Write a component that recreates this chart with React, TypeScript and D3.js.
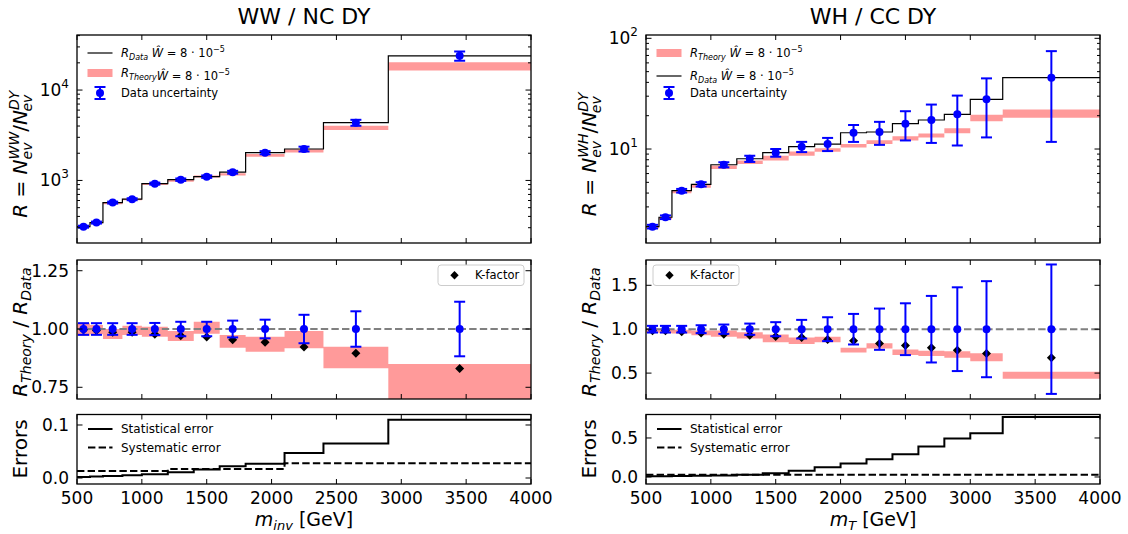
import React from "react";
import * as d3 from "d3";

// ---------------- data: WW / NC DY (left) ----------------
const wwEdges = [500, 600, 700, 850, 1000, 1200, 1400, 1600, 1800, 2100, 2400, 2900, 4000];
const wwData = [308, 342, 569, 620, 922, 1020, 1102, 1233, 2027, 2228, 4355, 23900];
const wwDataErr = [0.025, 0.025, 0.025, 0.025, 0.026, 0.031, 0.031, 0.036, 0.04, 0.061, 0.076, 0.117];
const wwTheoryLo = [0.971, 0.977, 0.957, 0.974, 0.967, 0.949, 0.98, 0.92, 0.903, 0.917, 0.832, 0.69];
const wwTheoryHi = [1.024, 1.017, 1.0, 1.014, 1.01, 0.991, 1.031, 0.974, 0.967, 0.991, 0.924, 0.85];
const wwKFactor = [0.997, 0.994, 0.986, 0.986, 0.977, 0.971, 0.966, 0.954, 0.943, 0.923, 0.896, 0.831];
const wwStat = [0.002, 0.003, 0.004, 0.005, 0.007, 0.011, 0.016, 0.022, 0.027, 0.047, 0.065, 0.11];
const wwSys = [0.013, 0.013, 0.013, 0.013, 0.013, 0.017, 0.017, 0.017, 0.017, 0.028, 0.028, 0.028];

// ---------------- data: WH / CC DY (right) ----------------
const whEdges = [500, 600, 700, 850, 1000, 1200, 1400, 1600, 1800, 2000, 2200, 2400, 2600, 2800, 3000, 3250, 4000];
const whData = [1.99, 2.42, 4.2, 4.8, 7.21, 8.17, 9.26, 10.49, 11.09, 14.03, 14.25, 16.95, 18.28, 20.57, 28.1, 44.1];
const whDataErr = [0.038, 0.038, 0.038, 0.045, 0.053, 0.064, 0.08, 0.106, 0.136, 0.174, 0.235, 0.295, 0.379, 0.477, 0.547, 0.737];
const whTheoryLo = [0.96, 0.955, 0.95, 0.93, 0.915, 0.895, 0.85, 0.83, 0.85, 0.735, 0.78, 0.705, 0.695, 0.675, 0.635, 0.435];
const whTheoryHi = [1.01, 1.005, 0.995, 0.985, 0.985, 0.965, 0.94, 0.905, 0.915, 0.79, 0.84, 0.77, 0.755, 0.75, 0.725, 0.515];
const whKFactor = [0.981, 0.981, 0.97, 0.958, 0.943, 0.932, 0.917, 0.905, 0.883, 0.867, 0.837, 0.814, 0.788, 0.761, 0.723, 0.674];
const whStat = [0.008, 0.01, 0.012, 0.015, 0.02, 0.027, 0.049, 0.08, 0.124, 0.173, 0.227, 0.293, 0.391, 0.493, 0.56, 0.769];
const whSys = [0.03, 0.03, 0.03, 0.03, 0.03, 0.03, 0.03, 0.03, 0.03, 0.03, 0.03, 0.03, 0.03, 0.03, 0.03, 0.03];

// ---------------- ticks ----------------
const xTicks = [500, 1000, 1500, 2000, 2500, 3000, 3500, 4000];
const wwTopMajor = [1000, 10000];
const whTopMajor = [10, 100];
const wwMidTicks = [0.75, 1.0, 1.25];
const wwMidLabels = ["0.75", "1.00", "1.25"];
const whMidTicks = [0.5, 1.0, 1.5];
const whMidLabels = ["0.5", "1.0", "1.5"];
const wwBotTicks = [0.0, 0.1];
const wwBotLabels = ["0.0", "0.1"];
const whBotTicks = [0.0, 0.5];
const whBotLabels = ["0.0", "0.5"];

const FONT = "'DejaVu Sans', sans-serif";
const PINK = "#ff9a9a";
const BLUE = "#0000ff";
const TOP = { y0: 35, y1: 243 };
const MID = { y0: 260, y1: 399 };
const BOT = { y0: 414.5, y1: 484 };

type Cfg = {
  id: string;
  x0: number;
  x1: number;
  edges: number[];
  data: number[];
  err: number[];
  lo: number[];
  hi: number[];
  kf: number[];
  stat: number[];
  sys: number[];
  topDomain: [number, number];
  topMajor: number[];
  midDomain: [number, number];
  midTicks: number[];
  midLabels: string[];
  botDomain: [number, number];
  botTicks: number[];
  botLabels: string[];
  title: string;
  sup: string;
  supW: number;
  xsub: string;
  theoryFirst: boolean;
  kfRight: boolean;
};

const WW: Cfg = {
  id: "ww",
  x0: 77,
  x1: 531,
  edges: wwEdges,
  data: wwData,
  err: wwDataErr,
  lo: wwTheoryLo,
  hi: wwTheoryHi,
  kf: wwKFactor,
  stat: wwStat,
  sys: wwSys,
  topDomain: [Math.pow(10, 2.308), Math.pow(10, 4.609)],
  topMajor: wwTopMajor,
  midDomain: [0.6998, 1.296],
  midTicks: wwMidTicks,
  midLabels: wwMidLabels,
  botDomain: [-0.0113, 0.1198],
  botTicks: wwBotTicks,
  botLabels: wwBotLabels,
  title: "WW / NC DY",
  sup: "WW",
  supW: 27.7,
  xsub: "inv",
  theoryFirst: false,
  kfRight: true,
};

const WH: Cfg = {
  id: "wh",
  x0: 646,
  x1: 1100,
  edges: whEdges,
  data: whData,
  err: whDataErr,
  lo: whTheoryLo,
  hi: whTheoryHi,
  kf: whKFactor,
  stat: whStat,
  sys: whSys,
  topDomain: [Math.pow(10, 0.151), Math.pow(10, 2.03)],
  topMajor: whTopMajor,
  midDomain: [0.205, 1.788],
  midTicks: whMidTicks,
  midLabels: whMidLabels,
  botDomain: [-0.09, 0.801],
  botTicks: whBotTicks,
  botLabels: whBotLabels,
  title: "WH / CC DY",
  sup: "WH",
  supW: 24.4,
  xsub: "T",
  theoryFirst: true,
  kfRight: false,
};

function LegendMath({ x, y, sub, space }: { x: number; y: number; sub: string; space: boolean }) {
  return (
    <text x={x} y={y} fontSize={11.5} fill="#000">
      <tspan fontStyle="italic">R</tspan>
      <tspan fontStyle="italic" fontSize={8} dy={3}>
        {sub}
      </tspan>
      <tspan dy={-3}>{space ? " " : ""}</tspan>
      <tspan fontStyle="italic">Ŵ</tspan>
      <tspan> = 8 · 10</tspan>
      <tspan fontSize={8} dy={-5}>
        −5
      </tspan>
    </text>
  );
}

function Diamond({ cx, cy, r }: { cx: number; cy: number; r: number }) {
  return <path d={`M${cx},${cy - r}L${cx + r},${cy}L${cx},${cy + r}L${cx - r},${cy}Z`} fill="#000" />;
}

function ErrBar({ x, yTop, yBot, yc }: { x: number; yTop: number; yBot: number; yc: number }) {
  const c = 5.5;
  return (
    <g stroke={BLUE} strokeWidth={2}>
      <line x1={x} x2={x} y1={yTop} y2={yBot} />
      <line x1={x - c} x2={x + c} y1={yTop} y2={yTop} />
      <line x1={x - c} x2={x + c} y1={yBot} y2={yBot} />
      <circle cx={x} cy={yc} r={4} fill={BLUE} stroke="none" />
    </g>
  );
}

function Frame({ x0, x1, y0, y1 }: { x0: number; x1: number; y0: number; y1: number }) {
  return <rect x={x0} y={y0} width={x1 - x0} height={y1 - y0} fill="none" stroke="#000" strokeWidth={1.3} />;
}

function Half({ cfg }: { cfg: Cfg }) {
  const { x0, x1, edges } = cfg;
  const n = cfg.data.length;
  const x = d3.scaleLinear().domain([500, 4000]).range([x0, x1]);
  const yT = d3.scaleLog().domain(cfg.topDomain).range([TOP.y1, TOP.y0]);
  const yM = d3.scaleLinear().domain(cfg.midDomain).range([MID.y1, MID.y0]);
  const yB = d3.scaleLinear().domain(cfg.botDomain).range([BOT.y1, BOT.y0]);
  const centers = d3.range(n).map((i) => (edges[i] + edges[i + 1]) / 2);

  const stepPts = (vals: number[]) => [...vals.map((v, i) => [edges[i], v]), [edges[n], vals[n - 1]]];
  const stepPath = (vals: number[], ys: (v: number) => number) =>
    d3
      .line<number[]>()
      .curve(d3.curveStepAfter)
      .x((d) => x(d[0]))
      .y((d) => ys(d[1]))(stepPts(vals) as number[][]) || "";
  const bandPts = (lo: number[], hi: number[]) => [
    ...lo.map((v, i) => [edges[i], v, hi[i]]),
    [edges[n], lo[n - 1], hi[n - 1]],
  ];
  const bandPath = (lo: number[], hi: number[], ys: (v: number) => number) =>
    d3
      .area<number[]>()
      .curve(d3.curveStepAfter)
      .x((d) => x(d[0]))
      .y0((d) => ys(d[1]))
      .y1((d) => ys(d[2]))(bandPts(lo, hi) as number[][]) || "";

  const thLoAbs = cfg.data.map((v, i) => v * cfg.lo[i]);
  const thHiAbs = cfg.data.map((v, i) => v * cfg.hi[i]);

  // minor log ticks
  const [d0, d1] = cfg.topDomain;
  const minor: number[] = [];
  for (let e = Math.floor(Math.log10(d0)); e <= Math.ceil(Math.log10(d1)); e++) {
    for (let k = 2; k <= 9; k++) {
      const v = k * Math.pow(10, e);
      if (v > d0 && v < d1) minor.push(v);
    }
  }

  const xTickMarks = (y0: number, y1: number) =>
    xTicks.map((t) => (
      <g key={`xt${t}`} stroke="#000" strokeWidth={1}>
        <line x1={x(t)} x2={x(t)} y1={y1} y2={y1 - 5} />
        <line x1={x(t)} x2={x(t)} y1={y0} y2={y0 + 5} />
      </g>
    ));
  const yTickMarks = (vals: number[], ys: (v: number) => number, len: number, key: string) =>
    vals.map((v) => (
      <g key={`${key}${v}`} stroke="#000" strokeWidth={1}>
        <line x1={x0} x2={x0 + len} y1={ys(v)} y2={ys(v)} />
        <line x1={x1} x2={x1 - len} y1={ys(v)} y2={ys(v)} />
      </g>
    ));

  const clipT = `clipT-${cfg.id}`;
  const clipM = `clipM-${cfg.id}`;
  const clipB = `clipB-${cfg.id}`;
  const cx = (x0 + x1) / 2;
  const labX = x0 - 50;

  // legend rows
  const dataRowY = cfg.theoryFirst ? 76 : 53;
  const thRowY = cfg.theoryFirst ? 53 : 73;
  const unRowY = 93;
  const hx0 = x0 + 10.5;
  const hx1 = x0 + 35.5;
  const tx = x0 + 44;

  const kfBoxX = cfg.kfRight ? x1 - 93 : x0 + 7;

  return (
    <g fontFamily={FONT}>
      <defs>
        <clipPath id={clipT}>
          <rect x={x0} y={TOP.y0} width={x1 - x0} height={TOP.y1 - TOP.y0} />
        </clipPath>
        <clipPath id={clipM}>
          <rect x={x0} y={MID.y0} width={x1 - x0} height={MID.y1 - MID.y0} />
        </clipPath>
        <clipPath id={clipB}>
          <rect x={x0} y={BOT.y0} width={x1 - x0} height={BOT.y1 - BOT.y0} />
        </clipPath>
      </defs>

      {/* title */}
      <text x={cx} y={23.5} fontSize={22} textAnchor="middle" fill="#000">
        {cfg.title}
      </text>

      {/* ---------- top panel ---------- */}
      <g clipPath={`url(#${clipT})`}>
        <path d={bandPath(thLoAbs, thHiAbs, yT)} fill={PINK} stroke="none" />
        <path d={stepPath(cfg.data, yT)} fill="none" stroke="#000" strokeWidth={1.2} />
        {centers.map((c, i) => (
          <ErrBar
            key={`e${i}`}
            x={x(c)}
            yTop={yT(cfg.data[i] * (1 + cfg.err[i]))}
            yBot={yT(cfg.data[i] * (1 - cfg.err[i]))}
            yc={yT(cfg.data[i])}
          />
        ))}
      </g>
      {xTickMarks(TOP.y0, TOP.y1)}
      {yTickMarks(cfg.topMajor.filter((v) => v >= d0 && v <= d1 * 1.001), yT, 5.5, "tm")}
      {yTickMarks(minor, yT, 3, "tn")}
      <Frame x0={x0} x1={x1} y0={TOP.y0} y1={TOP.y1} />
      {cfg.topMajor.map((v) => (
        <text key={`tl${v}`} x={x0 - 8} y={yT(v) + 6} fontSize={17} textAnchor="end" fill="#000">
          10
          <tspan fontSize={12} dy={-8}>
            {Math.round(Math.log10(v))}
          </tspan>
        </text>
      ))}
      {/* top legend */}
      <line x1={hx0} x2={hx1} y1={dataRowY} y2={dataRowY} stroke="#000" strokeWidth={1.2} />
      <LegendMath x={tx} y={dataRowY + 4} sub="Data" space={true} />
      <rect x={hx0} y={thRowY - 4} width={hx1 - hx0} height={8} fill={PINK} />
      <LegendMath x={tx} y={thRowY + 4} sub="Theory" space={cfg.theoryFirst} />
      <ErrBar x={(hx0 + hx1) / 2} yTop={unRowY - 6} yBot={unRowY + 6} yc={unRowY} />
      <text x={tx} y={unRowY + 4} fontSize={11.5} fill="#000">
        Data uncertainty
      </text>
      {/* top y label */}
      <g transform={`translate(${x0 - 50},155) rotate(-90)`}>
        <text x={0} y={0} fontSize={20} textAnchor="middle" fill="#000">
          <tspan fontStyle="italic">R</tspan>
          <tspan> = </tspan>
          <tspan fontStyle="italic">N</tspan>
          <tspan fontStyle="italic" fontSize={14} dy={-8}>
            {cfg.sup}
          </tspan>
          <tspan fontStyle="italic" fontSize={14} dx={-cfg.supW} dy={13}>
            ev
          </tspan>
          <tspan dx={cfg.supW - 16.9} dy={-5}>
            /
          </tspan>
          <tspan fontStyle="italic">N</tspan>
          <tspan fontStyle="italic" fontSize={14} dy={-8}>
            DY
          </tspan>
          <tspan fontStyle="italic" fontSize={14} dx={-19.3} dy={13}>
            ev
          </tspan>
          <tspan dx={2.4} dy={-5}>
            {" "}
          </tspan>
        </text>
      </g>

      {/* ---------- middle panel ---------- */}
      <g clipPath={`url(#${clipM})`}>
        <path d={bandPath(cfg.lo, cfg.hi, yM)} fill={PINK} stroke="none" />
        <line x1={x0} x2={x1} y1={yM(1)} y2={yM(1)} stroke="#808080" strokeWidth={2} strokeDasharray="7.4 3.2" />
        {centers.map((c, i) => (
          <Diamond key={`k${i}`} cx={x(c)} cy={yM(cfg.kf[i])} r={4.5} />
        ))}
        {centers.map((c, i) => (
          <ErrBar key={`r${i}`} x={x(c)} yTop={yM(1 + cfg.err[i])} yBot={yM(1 - cfg.err[i])} yc={yM(1)} />
        ))}
      </g>
      {xTickMarks(MID.y0, MID.y1)}
      {yTickMarks(cfg.midTicks, yM, 5.5, "mm")}
      <Frame x0={x0} x1={x1} y0={MID.y0} y1={MID.y1} />
      {cfg.midTicks.map((v, i) => (
        <text key={`ml${v}`} x={x0 - 8} y={yM(v) + 6} fontSize={17} textAnchor="end" fill="#000">
          {cfg.midLabels[i]}
        </text>
      ))}
      {/* K-factor legend */}
      <rect x={kfBoxX} y={265} width={86} height={20.5} rx={3} fill="#fff" fillOpacity={0.8} stroke="#cccccc" strokeWidth={1} />
      <Diamond cx={kfBoxX + 16.5} cy={275.2} r={4.2} />
      <text x={kfBoxX + 37} y={279.3} fontSize={11.5} fill="#000">
        K-factor
      </text>
      {/* middle y label */}
      <g transform={`translate(${x0 - 50},332) rotate(-90)`}>
        <text x={0} y={0} fontSize={20} textAnchor="middle" fill="#000">
          <tspan fontStyle="italic">R</tspan>
          <tspan fontStyle="italic" fontSize={14} dy={4}>
            Theory
          </tspan>
          <tspan dy={-4}> / </tspan>
          <tspan fontStyle="italic">R</tspan>
          <tspan fontStyle="italic" fontSize={14} dy={4}>
            Data
          </tspan>
        </text>
      </g>

      {/* ---------- bottom panel ---------- */}
      <g clipPath={`url(#${clipB})`}>
        <path d={stepPath(cfg.stat, yB)} fill="none" stroke="#000" strokeWidth={2} />
        <path d={stepPath(cfg.sys, yB)} fill="none" stroke="#000" strokeWidth={2} strokeDasharray="7.4 3.2" />
      </g>
      {xTickMarks(BOT.y0, BOT.y1)}
      {yTickMarks(cfg.botTicks, yB, 5.5, "bb")}
      <Frame x0={x0} x1={x1} y0={BOT.y0} y1={BOT.y1} />
      {cfg.botTicks.map((v, i) => (
        <text key={`bl${v}`} x={x0 - 8} y={yB(v) + 6} fontSize={17} textAnchor="end" fill="#000">
          {cfg.botLabels[i]}
        </text>
      ))}
      {xTicks.map((t) => (
        <text key={`xl${t}`} x={x(t)} y={504} fontSize={17} textAnchor="middle" fill="#000">
          {t}
        </text>
      ))}
      {/* bottom legend */}
      <line x1={x0 + 11} x2={x0 + 35.5} y1={429} y2={429} stroke="#000" strokeWidth={2} />
      <text x={tx} y={433.3} fontSize={12} fill="#000">
        Statistical error
      </text>
      <line x1={x0 + 11} x2={x0 + 35.5} y1={447.5} y2={447.5} stroke="#000" strokeWidth={2} strokeDasharray="7.4 3.2" />
      <text x={tx} y={451.8} fontSize={12} fill="#000">
        Systematic error
      </text>
      {/* bottom y label */}
      <g transform={`translate(${x0 - 50},449) rotate(-90)`}>
        <text x={0} y={0} fontSize={20} textAnchor="middle" fill="#000">
          Errors
        </text>
      </g>
      {/* x label */}
      <text x={cx} y={526} fontSize={19} textAnchor="middle" fill="#000">
        <tspan fontStyle="italic">m</tspan>
        <tspan fontStyle="italic" fontSize={13} dy={4}>
          {cfg.xsub}
        </tspan>
        <tspan dy={-4}> [GeV]</tspan>
      </text>
    </g>
  );
}

export default function App() {
  return (
    <svg
      width={1128}
      height={534}
      viewBox="0 0 1128 534"
      style={{ position: "absolute", left: 0, top: 0, display: "block", background: "#fff" }}
    >
      <rect x={0} y={0} width={1128} height={534} fill="#fff" />
      <Half cfg={WW} />
      <Half cfg={WH} />
    </svg>
  );
}
